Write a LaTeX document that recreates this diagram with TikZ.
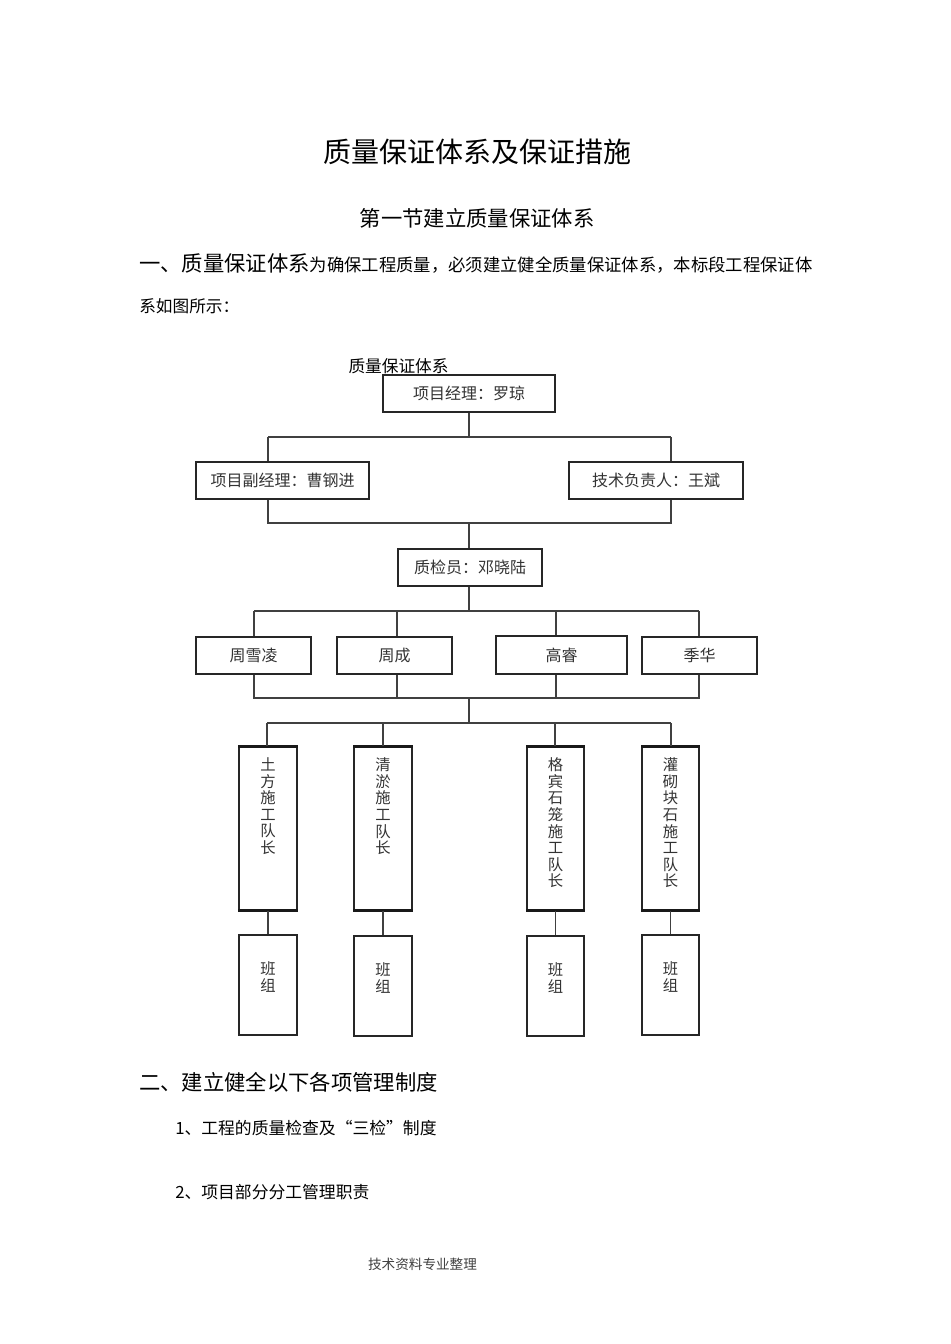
\documentclass[tikz,border=0pt]{standalone}
\usepackage{fontspec}
\setmainfont{Noto Sans CJK SC}
\begin{document}
\begin{tikzpicture}[x=0.75pt,y=-0.75pt,
  box/.style={draw=black!85,line width=0.9pt,inner sep=0pt,font=\fontsize{12}{14}\selectfont,text=black!80},
  tallbox/.style={draw=black!85,line width=0.9pt,inner sep=0pt,minimum height=122.25pt},
  vtext/.style={inner sep=0pt,align=center,font=\fontsize{11.5}{12.4}\selectfont,text=black!80},
  conn/.style={draw=black!75,line width=0.85pt},
  heading/.style={inner sep=0pt,anchor=west,text=black}]
\useasboundingbox (0,0) rectangle (950,1344);
\fill[white] (0,0) rectangle (950,1344);

% headings
\node[inner sep=0pt,font=\fontsize{21}{24}\selectfont] (title) at (477,152) {质量保证体系及保证措施};
\node[inner sep=0pt,font=\fontsize{16}{19}\selectfont] (sub) at (477,218) {第一节建立质量保证体系};
\node[heading] (p1) at (139,264) {{\fontsize{16}{19}\selectfont 一、质量保证体系}{\fontsize{13}{16}\selectfont 为确保工程质量，必须建立健全质量保证体系，本标段工程保证体}};
\node[heading,font=\fontsize{12.5}{15}\selectfont] (p2) at (139,306) {系如图所示：};
\node[inner sep=0pt,font=\fontsize{12.5}{15}\selectfont] (lab) at (398.5,366) {质量保证体系};

% level boxes
\node[box,minimum width=129pt,minimum height=27.75pt] (pm) at (469,393.5) {项目经理：罗琼};
\node[box,minimum width=129.75pt,minimum height=27.75pt] (vpm) at (282.5,480.5) {项目副经理：曹钢进};
\node[box,minimum width=130.5pt,minimum height=27.75pt] (tech) at (656,480.5) {技术负责人：王斌};
\node[box,minimum width=108pt,minimum height=27.75pt] (qc) at (470,567.5) {质检员：邓晓陆};
\node[box,minimum width=86.25pt,minimum height=27.75pt] (p1n) at (253.5,655.5) {周雪凌};
\node[box,minimum width=86.25pt,minimum height=27.75pt] (p2n) at (394.5,655.5) {周成};
\node[box,minimum width=98.25pt,minimum height=28.5pt] (p3n) at (561.5,655) {高睿};
\node[box,minimum width=86.25pt,minimum height=27.75pt] (p4n) at (699.5,655.5) {季华};

% tall boxes
\node[tallbox,minimum width=43.5pt] (t1) at (268,828.5) {};
\node[tallbox,minimum width=43.5pt] (t2) at (383,828.5) {};
\node[tallbox,minimum width=42.75pt] (t3) at (555.5,828.5) {};
\node[tallbox,minimum width=42.75pt] (t4) at (670.5,828.5) {};
\node[vtext,anchor=north] (v1) at ([yshift=-8.5pt]t1.north) {土\\方\\施\\工\\队\\长};
\node[vtext,anchor=north] (v2) at ([yshift=-8.5pt]t2.north) {清\\淤\\施\\工\\队\\长};
\node[vtext,anchor=north] (v3) at ([yshift=-8.5pt]t3.north) {格\\宾\\石\\笼\\施\\工\\队\\长};
\node[vtext,anchor=north] (v4) at ([yshift=-8.5pt]t4.north) {灌\\砌\\块\\石\\施\\工\\队\\长};
\foreach \n in {t1,t2,t3,t4}
  \draw[black!90,line width=1.7pt] (\n.north west) -- (\n.north east) (\n.south west) -- (\n.south east);

% team boxes
\node[tallbox,minimum width=43.5pt,minimum height=75pt] (g1) at (268,985) {};
\node[tallbox,minimum width=43.5pt,minimum height=75pt] (g2) at (383,986) {};
\node[tallbox,minimum width=42.75pt,minimum height=75pt] (g3) at (555.5,986) {};
\node[tallbox,minimum width=42.75pt,minimum height=75pt] (g4) at (670.5,985) {};
\foreach \n in {g1,g2,g3,g4}
  \node[vtext] at ([yshift=6pt]\n.center) {班\\组};

% junction coordinates
\coordinate (a) at (469,437);
\coordinate (aL) at (268,437);
\coordinate (aR) at (671,437);
\coordinate (b) at (469,523);
\coordinate (bL) at (268,523);
\coordinate (bR) at (671,523);
\coordinate (c) at (469,611);
\coordinate (cL) at (254,611);
\coordinate (c2) at (397,611);
\coordinate (c3) at (556,611);
\coordinate (cR) at (699,611);
\coordinate (d) at (469,698);
\coordinate (dL) at (254,698);
\coordinate (d2) at (397,698);
\coordinate (d3) at (556,698);
\coordinate (dR) at (699,698);
\coordinate (e) at (469,723);
\coordinate (eL) at (267,723);
\coordinate (e2) at (383,723);
\coordinate (e3) at (555,723);
\coordinate (eR) at (671,723);

% connectors
\draw[conn] (pm.south) -- (a);
\draw[conn] (aL) -- (aR);
\draw[conn] (aL) -- (aL |- vpm.north);
\draw[conn] (aR) -- (aR |- tech.north);
\draw[conn] (bL |- vpm.south) -- (bL) -- (bR) -- (bR |- tech.south);
\draw[conn] (b) -- (b |- qc.north);
\draw[conn] (qc.south -| c) -- (c);
\draw[conn] (cL) -- (cR);
\draw[conn] (cL) -- (cL |- p1n.north);
\draw[conn] (c2) -- (c2 |- p2n.north);
\draw[conn] (c3) -- (c3 |- p3n.north);
\draw[conn] (cR) -- (cR |- p4n.north);
\draw[conn] (dL |- p1n.south) -- (dL) -- (dR) -- (dR |- p4n.south);
\draw[conn] (d2 |- p2n.south) -- (d2);
\draw[conn] (d3 |- p3n.south) -- (d3);
\draw[conn] (d) -- (e);
\draw[conn] (eL) -- (eR);
\draw[conn] (eL) -- (eL |- t1.north);
\draw[conn] (e2) -- (e2 |- t2.north);
\draw[conn] (e3) -- (e3 |- t3.north);
\draw[conn] (eR) -- (eR |- t4.north);
\draw[conn] (t1.south) -- (g1.north);
\draw[conn] (t2.south) -- (g2.north);
\draw[conn] (t3.south) -- (g3.north);
\draw[conn] (t4.south) -- (g4.north);

% section two
\node[heading,font=\fontsize{16}{19}\selectfont] (s2) at (139,1082) {二、建立健全以下各项管理制度};
\node[heading,font=\fontsize{12.6}{15}\selectfont] (i1) at (175,1128) {1、工程的质量检查及“三检”制度};
\node[heading,font=\fontsize{12.6}{15}\selectfont] (i2) at (175,1192) {2、项目部分分工管理职责};
\node[inner sep=0pt,font=\fontsize{10.2}{12}\selectfont,text=black!75] (foot) at (422.5,1264) {技术资料专业整理};
\end{tikzpicture}
\end{document}
